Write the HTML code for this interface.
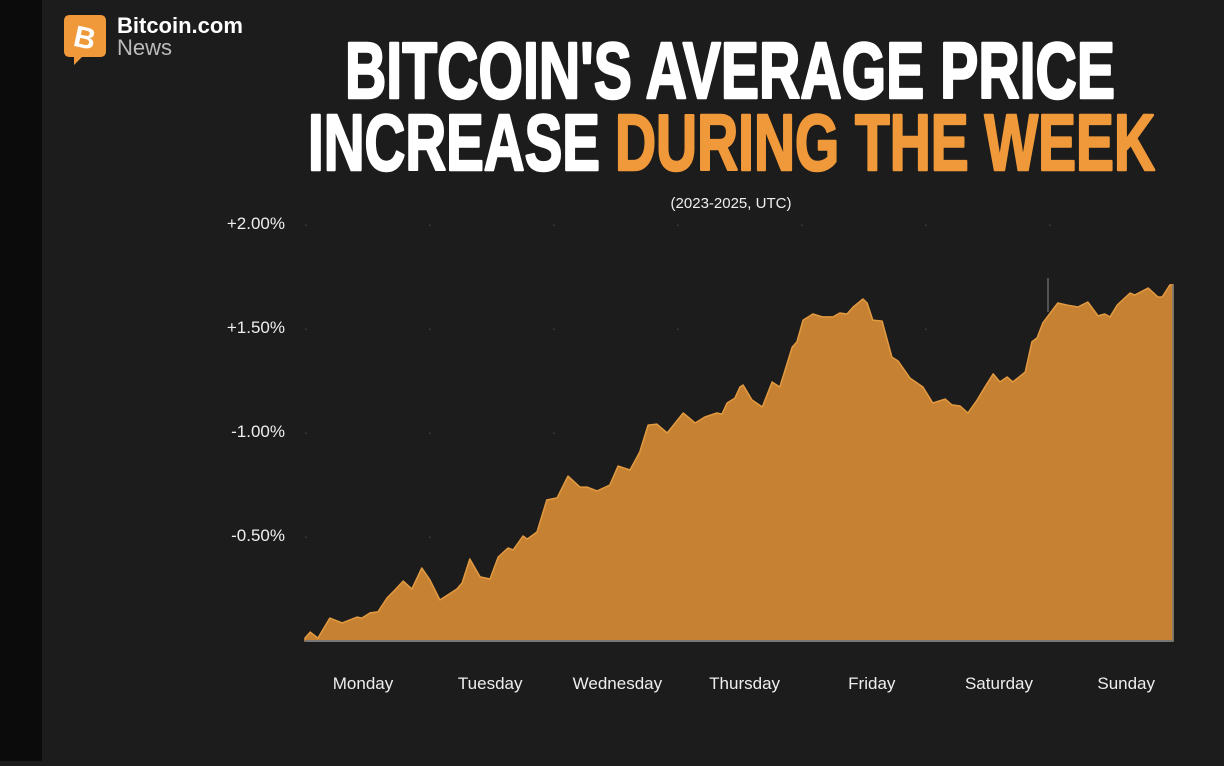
<!DOCTYPE html>
<html><head><meta charset="utf-8"><style>
html,body{margin:0;padding:0;background:#1c1c1c;}
body{width:1224px;height:761px;overflow:hidden;position:relative;font-family:"Liberation Sans",sans-serif;}
</style></head><body>
<svg id="chart" width="1224" height="761" viewBox="0 0 1224 761" xmlns="http://www.w3.org/2000/svg">
<rect x="0" y="0" width="1224" height="761" fill="#1c1c1c"/>
<rect x="0" y="0" width="42" height="761" fill="#0b0b0b"/>
<g>
<path d="M70 15 H100 Q106 15 106 21 V51 Q106 57 100 57 H82 L74 65 L74 57 H70 Q64 57 64 51 V21 Q64 15 70 15 Z" fill="#f0993a"/>
<text x="85" y="48" font-size="30" font-weight="bold" fill="#fff" text-anchor="middle" transform="rotate(12 85 37)">B</text>
<text x="117" y="33" font-size="22" font-weight="bold" fill="#fff">Bitcoin.com</text>
<text x="117" y="55" font-size="22" fill="#bbb">News</text>
</g>
<g font-weight="bold" font-size="80" stroke-width="2.5" stroke-linejoin="round">
<text x="345" y="98" textLength="770" lengthAdjust="spacingAndGlyphs" fill="#fff" stroke="#fff">BITCOIN'S AVERAGE PRICE</text>
<text x="308" y="170" textLength="292" lengthAdjust="spacingAndGlyphs" fill="#fff" stroke="#fff">INCREASE</text>
<text x="615" y="170" textLength="540" lengthAdjust="spacingAndGlyphs" fill="#f0993a" stroke="#f0993a">DURING THE WEEK</text>
</g>
<text x="731" y="208" font-size="15" fill="#eee" text-anchor="middle">(2023-2025, UTC)</text>
<g id="grid"></g>
<g id="yaxis"></g>
<g id="plot"></g>
<g id="xaxis"></g>
</svg>
<script>
const hours=[0,1,2.5,4.8,7.2,10.1,11,12.6,14.1,15.9,17.4,19,20.7,22.6,24.2,26.1,29.4,30.4,31.9,33.9,35.8,37.4,39.3,40.3,42.2,43,44.9,46.8,48.8,50.9,53.2,54.6,56.5,59,60.6,62.9,64.8,66.4,68.1,70.1,73.2,75.5,77.4,79.7,80.7,81.7,83.2,84.2,84.8,86.5,88.5,90.4,91.9,94.3,95.2,96.4,98.3,100.1,102.2,103.5,104.9,106.1,108,108.8,109.9,111.7,113.6,114.8,117.1,119.6,121.5,123.9,125.2,126.8,128.3,130.1,131.6,133.2,134.5,135.9,137,139.4,140.7,141.7,142.8,145.7,147.5,149.6,151.5,153.5,154.8,155.8,157.2,159.7,160.6,163.2,165.1,165.9,167.4,168];
const values=[0.014,0.043,0.014,0.11,0.087,0.115,0.11,0.135,0.14,0.207,0.245,0.288,0.25,0.351,0.293,0.197,0.25,0.279,0.394,0.308,0.298,0.404,0.447,0.438,0.505,0.49,0.524,0.678,0.688,0.793,0.74,0.74,0.721,0.75,0.841,0.822,0.909,1.038,1.043,1.0,1.096,1.048,1.077,1.096,1.091,1.144,1.168,1.221,1.231,1.159,1.125,1.245,1.221,1.413,1.438,1.543,1.572,1.558,1.558,1.577,1.572,1.606,1.644,1.625,1.543,1.538,1.365,1.346,1.264,1.221,1.144,1.163,1.135,1.13,1.096,1.159,1.221,1.284,1.245,1.269,1.245,1.293,1.438,1.457,1.529,1.625,1.615,1.606,1.63,1.563,1.572,1.558,1.615,1.673,1.663,1.697,1.654,1.654,1.712,1.712];
const yTicks=[2.0,1.5,1.0,0.5];
const yTickLabels=["+2.00%","+1.50%","-1.00%","-0.50%"];
const days=["Monday","Tuesday","Wednesday","Thursday","Friday","Saturday","Sunday"];

const X0=305,X1=1173,Y0=641,PXV=208;
const xs=h=>X0+(h/168)*(X1-X0);
const ys=v=>Y0-v*PXV;
const NS="http://www.w3.org/2000/svg";
function mk(tag,attrs,parent){const e=document.createElementNS(NS,tag);for(const k in attrs)e.setAttribute(k,attrs[k]);parent.appendChild(e);return e;}
const grid=document.getElementById('grid'),ya=document.getElementById('yaxis'),plot=document.getElementById('plot'),xa=document.getElementById('xaxis');

yTicks.forEach((t,i)=>{
  const y=ys(t);
  const lab=mk('text',{x:285,y:y+4,'font-size':17,fill:'#eee','text-anchor':'end'},ya);
  
  
  lab.textContent=yTickLabels[i];
  for(let d=0;d<7;d++){
    const dot=mk('rect',{x:X0+d*124,y:y-0.5,width:1.5,height:1.5,fill:'#444'},grid);
    
    
  }
});

let d='M'+xs(hours[0])+','+Y0;
hours.forEach((h,i)=>{d+=' L'+xs(h).toFixed(1)+','+ys(values[i]).toFixed(1);});
d+=' L'+xs(hours[hours.length-1])+','+Y0+' Z';
const area=mk('path',{d:d,fill:'#c68232',stroke:'#e39a40','stroke-width':1.5,'stroke-linejoin':'round'},plot);



const vl=mk('line',{x1:1048,y1:278,x2:1048,y2:312,stroke:'#888','stroke-width':1},plot);



const base=mk('line',{x1:X0,y1:Y0,x2:X1,y2:Y0,stroke:'#777','stroke-width':2},xa);


const re=mk('line',{x1:X1,y1:ys(values[values.length-1]),x2:X1,y2:Y0,stroke:'#777','stroke-width':1.5},xa);



days.forEach((dn,i)=>{
  const cx=X0+58+i*127.2;
  const t=mk('text',{x:cx,y:689,'font-size':17,fill:'#eee','text-anchor':'middle'},xa);
  
  
  t.textContent=dn;
});
</script>
</body></html>
